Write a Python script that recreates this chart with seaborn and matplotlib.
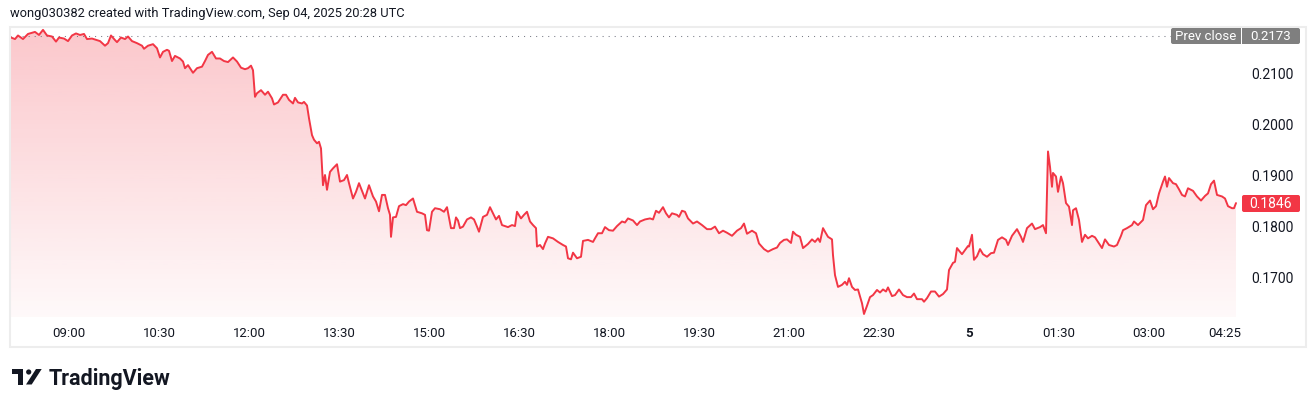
import numpy as np
import pandas as pd
import matplotlib
matplotlib.use('Agg')
import matplotlib.pyplot as plt
import seaborn as sns
from matplotlib.patches import Rectangle, FancyBboxPatch, Polygon, Circle
from matplotlib.transforms import IdentityTransform

W, H = 1316, 407

# bar index (1-minute bars from 08:00) and price
bars = [2, 6, 9, 14, 19, 26, 30, 34, 38, 43,
        47, 50, 55, 59, 63, 67, 71, 75, 78, 83,
        88, 91, 96, 99, 102, 106, 108, 112, 116, 119,
        123, 128, 133, 135, 139, 144, 148, 151, 154, 158,
        160, 163, 166, 171, 174, 176, 179, 184, 188, 193,
        196, 199, 203, 207, 211, 215, 219, 224, 228, 232,
        236, 239, 242, 244, 246, 248, 252, 256, 259, 263,
        265, 269, 274, 277, 280, 284, 286, 289, 293, 295,
        298, 300, 303, 305, 308, 310, 312, 314, 316, 318,
        321,
        324, 328, 331, 335, 338, 340, 344, 347, 350, 354,
        356, 360, 364, 367, 370, 373, 376, 379, 381, 382,
        384, 387, 390, 394, 397, 400, 404, 408, 413, 416,
        418, 420, 423, 426, 431, 435, 438, 442, 445, 447,
        449, 451, 454, 458, 462, 465, 468, 470, 474, 478,
        481, 484, 487, 490, 493, 496, 499, 503, 506, 508,
        512, 515, 518, 521, 524, 527, 528, 531, 534, 536,
        539, 544, 549, 554, 557, 559, 562, 564, 568, 572,
        574, 579, 584, 586, 589, 593, 596, 600, 604, 608,
        613, 616, 619, 624, 628, 631, 636, 641,
        644, 647, 650, 654, 657, 660, 663, 668, 670, 673,
        676, 679, 684, 688, 693, 698, 702, 706, 710, 714,
        718, 723, 728, 732, 735, 738, 743, 747, 750, 755,
        759, 764, 768, 771, 775, 778, 782, 784, 787, 791,
        794, 799, 803, 806, 809, 811, 814, 816, 819, 823,
        824, 826, 829, 833, 836, 838, 840, 843, 846, 849,
        853, 855, 858, 861, 864, 868, 871, 874, 877, 879,
        883, 886, 890, 894, 898, 902, 905, 908, 913, 915,
        918, 922, 926, 930, 934, 938, 940, 944, 946, 948,
        950, 953, 956, 959,
        960, 963, 965, 968, 971, 974, 978, 982, 985, 989,
        993, 997, 999, 1003, 1008, 1012, 1014, 1018, 1023, 1026,
        1031, 1034, 1037, 1039, 1041, 1043, 1044, 1047, 1049, 1052,
        1054, 1057, 1060, 1063, 1064, 1067, 1070, 1073, 1076, 1079,
        1083, 1086, 1089, 1093, 1096, 1100, 1105, 1108, 1112, 1114,
        1118, 1123, 1125, 1129, 1134, 1137, 1141, 1144, 1147, 1150,
        1154, 1156, 1158, 1160, 1164, 1167, 1170, 1173, 1176, 1179,
        1184, 1188, 1192, 1196, 1199, 1202, 1205, 1208, 1213, 1216,
        1219, 1223, 1225, 1227]

prices = [0.2170, 0.2167, 0.2174, 0.2167, 0.2177, 0.2181, 0.2175, 0.2185, 0.2174, 0.2172,
          0.2162, 0.2170, 0.2168, 0.2163, 0.2174, 0.2178, 0.2175, 0.2177, 0.2167, 0.2168,
          0.2165, 0.2163, 0.2154, 0.2159, 0.2174, 0.2165, 0.2161, 0.2170, 0.2167, 0.2172,
          0.2163, 0.2159, 0.2154, 0.2148, 0.2154, 0.2157, 0.2149, 0.2131, 0.2142, 0.2146,
          0.2144, 0.2124, 0.2134, 0.2129, 0.2123, 0.2110, 0.2116, 0.2101, 0.2110, 0.2113,
          0.2124, 0.2136, 0.2142, 0.2129, 0.2129, 0.2124, 0.2122, 0.2131, 0.2123, 0.2111,
          0.2108, 0.2110, 0.2115, 0.2106, 0.2054, 0.2061, 0.2067, 0.2058, 0.2064, 0.2051,
          0.2039, 0.2043, 0.2058, 0.2058, 0.2048, 0.2041, 0.2052, 0.2043, 0.2041, 0.2044,
          0.2037, 0.2012, 0.1979, 0.1970, 0.1963, 0.1966, 0.1953, 0.1881, 0.1901, 0.1872,
          0.1907,
          0.1914, 0.1922, 0.1888, 0.1891, 0.1901, 0.1885, 0.1855, 0.1868, 0.1885, 0.1865,
          0.1855, 0.1881, 0.1859, 0.1849, 0.1830, 0.1862, 0.1862, 0.1836, 0.1823, 0.1780,
          0.1818, 0.1819, 0.1840, 0.1844, 0.1842, 0.1849, 0.1855, 0.1829, 0.1826, 0.1823,
          0.1793, 0.1792, 0.1829, 0.1836, 0.1834, 0.1829, 0.1838, 0.1797, 0.1797, 0.1818,
          0.1812, 0.1797, 0.1800, 0.1814, 0.1818, 0.1814, 0.1800, 0.1790, 0.1819, 0.1823,
          0.1838, 0.1826, 0.1814, 0.1821, 0.1803, 0.1801, 0.1799, 0.1803, 0.1801, 0.1829,
          0.1816, 0.1823, 0.1829, 0.1810, 0.1803, 0.1797, 0.1761, 0.1764, 0.1756, 0.1767,
          0.1780, 0.1777, 0.1770, 0.1764, 0.1761, 0.1738, 0.1736, 0.1749, 0.1738, 0.1741,
          0.1772, 0.1774, 0.1770, 0.1777, 0.1787, 0.1787, 0.1799, 0.1793, 0.1792, 0.1801,
          0.1810, 0.1808, 0.1816, 0.1812, 0.1803, 0.1810, 0.1814, 0.1816,
          0.1814, 0.1831, 0.1827, 0.1838, 0.1826, 0.1818, 0.1826, 0.1823, 0.1819, 0.1831,
          0.1829, 0.1816, 0.1806, 0.1810, 0.1803, 0.1795, 0.1795, 0.1800, 0.1787, 0.1792,
          0.1788, 0.1782, 0.1792, 0.1797, 0.1806, 0.1786, 0.1792, 0.1787, 0.1767, 0.1756,
          0.1751, 0.1756, 0.1759, 0.1768, 0.1774, 0.1775, 0.1768, 0.1790, 0.1784, 0.1780,
          0.1758, 0.1766, 0.1775, 0.1770, 0.1777, 0.1770, 0.1797, 0.1790, 0.1780, 0.1775,
          0.1744, 0.1705, 0.1682, 0.1686, 0.1692, 0.1686, 0.1699, 0.1682, 0.1676, 0.1677,
          0.1650, 0.1629, 0.1645, 0.1662, 0.1666, 0.1676, 0.1671, 0.1677, 0.1673, 0.1681,
          0.1664, 0.1666, 0.1677, 0.1666, 0.1662, 0.1662, 0.1669, 0.1658, 0.1658, 0.1653,
          0.1660, 0.1673, 0.1673, 0.1663, 0.1668, 0.1677, 0.1715, 0.1729, 0.1731, 0.1758,
          0.1753, 0.1746, 0.1754, 0.1762,
          0.1761, 0.1784, 0.1735, 0.1742, 0.1756, 0.1746, 0.1741, 0.1748, 0.1749, 0.1774,
          0.1779, 0.1774, 0.1764, 0.1782, 0.1795, 0.1780, 0.1770, 0.1797, 0.1806, 0.1795,
          0.1799, 0.1803, 0.1787, 0.1947, 0.1917, 0.1878, 0.1905, 0.1898, 0.1868, 0.1898,
          0.1885, 0.1846, 0.1839, 0.1803, 0.1832, 0.1836, 0.1813, 0.1770, 0.1784, 0.1777,
          0.1782, 0.1779, 0.1770, 0.1758, 0.1775, 0.1764, 0.1761, 0.1764, 0.1782, 0.1793,
          0.1797, 0.1803, 0.1810, 0.1803, 0.1813, 0.1842, 0.1851, 0.1834, 0.1840, 0.1865,
          0.1888, 0.1898, 0.1878, 0.1895, 0.1885, 0.1883, 0.1873, 0.1862, 0.1859, 0.1875,
          0.1870, 0.1859, 0.1851, 0.1860, 0.1865, 0.1883, 0.1890, 0.1862, 0.1859, 0.1855,
          0.1840, 0.1836, 0.1836, 0.1846]

prev_close = 0.2173
last_price = 0.1846
tick_bars = [60, 150, 240, 330, 420, 510, 600, 690, 780, 870, 960, 1050, 1140, 1216]
tick_labels = ['09:00', '10:30', '12:00', '13:30', '15:00', '16:30', '18:00',
               '19:30', '21:00', '22:30', '5', '01:30', '03:00', '04:25']
price_ticks = [0.17, 0.18, 0.19, 0.20, 0.21]
title = 'wong030382 created with TradingView.com, Sep 04, 2025 20:28 UTC'

RED = '#f23645'
TXT = '#131722'

df = pd.DataFrame({'bar': bars, 'price': prices})

sns.set_theme(style='white')
plt.rcParams['font.family'] = ['Roboto', 'DejaVu Sans']

fig = plt.figure(figsize=(W / 100, H / 100), dpi=100)
fig.patch.set_facecolor('white')

y_lo, y_hi = 0.16231, 0.21906
ax = fig.add_axes([10 / W, 1 - 317 / H, 1230 / W, 290 / H])
ax.set_xlim(1, 1231)
ax.set_ylim(y_lo, y_hi)

# gradient area under the line
poly = ax.fill_between(df['bar'], df['price'], y_lo, color='none', lw=0)
grad = np.zeros((256, 1, 4))
grad[..., 0], grad[..., 1], grad[..., 2] = 242 / 255, 54 / 255, 69 / 255
grad[:, 0, 3] = np.linspace(0.28, 0.03, 256)
im = ax.imshow(grad, extent=[1, 1231, y_lo, y_hi], aspect='auto', origin='upper', zorder=1)
im.set_clip_path(poly.get_paths()[0], transform=ax.transData)

sns.lineplot(data=df, x='bar', y='price', color=RED, linewidth=1.4, ax=ax, zorder=3)

ax.axhline(prev_close, color='#787b86', lw=0.75, dashes=(1, 4.8), zorder=2)

for s in ax.spines.values():
    s.set_visible(False)
ax.set_xlabel('')
ax.set_ylabel('')
ax.set_xticks(tick_bars)
ax.set_xticklabels(tick_labels)
ax.yaxis.tick_right()
ax.set_yticks(price_ticks)
ax.set_yticklabels([f'{p:.4f}' for p in price_ticks])
ax.tick_params(axis='x', length=0, pad=7, labelsize=9.5, labelcolor=TXT)
ax.tick_params(axis='y', length=0, pad=8, labelsize=10, labelcolor=TXT)
for lab in ax.get_xticklabels():
    if lab.get_text() == '5':
        lab.set_fontweight('bold')


def px(x, y):
    return x / W, 1 - y / H


# outer frame
fig.add_artist(Rectangle(px(9.5, 346.5), 1296 / W, 320 / H, transform=fig.transFigure,
                         fill=False, edgecolor='#ededed', lw=1.5))

fig.text(*px(10, 14), title, ha='left', va='center', fontsize=9.25, color=TXT)

# price labels (pixel coords, y up)
ident = IdentityTransform()
fig.add_artist(FancyBboxPatch((1171, H - 44), 129, 16, boxstyle='round,pad=0,rounding_size=2',
                              transform=ident, facecolor='#7f7f7f', edgecolor='none'))
fig.add_artist(Rectangle((1241, H - 44), 1, 16, transform=ident, facecolor='white', edgecolor='none'))
fig.text(*px(1206, 36.5), 'Prev close', ha='center', va='center', fontsize=9.5, color='white')
fig.text(*px(1271, 36.5), f'{prev_close:.4f}', ha='center', va='center', fontsize=9.5, color='white')

fig.add_artist(FancyBboxPatch((1242, H - 212), 58, 17, boxstyle='round,pad=0,rounding_size=2',
                              transform=ident, facecolor=RED, edgecolor='none'))
fig.text(*px(1271, 203.5), f'{last_price:.4f}', ha='center', va='center', fontsize=10, color='white')

# TradingView logo
LOGO = '#131722'
fig.add_artist(Polygon([(12, H - 369), (23, H - 369), (23, H - 384.5), (17.5, H - 384.5),
                        (17.5, H - 374), (12, H - 374)], closed=True, transform=ident,
                       facecolor=LOGO, edgecolor='none'))
fig.add_artist(Circle((28.7, H - 372), 2.6, transform=ident, facecolor=LOGO, edgecolor='none'))
fig.add_artist(Polygon([(26, H - 384.5), (31.7, H - 384.5), (41.7, H - 369), (36, H - 369)],
                       closed=True, transform=ident, facecolor=LOGO, edgecolor='none'))
fig.text(*px(49, 384.5), 'TradingView', ha='left', va='baseline', fontsize=15.5,
         fontweight='bold', color=LOGO)

fig.savefig('out.png', dpi=100)
